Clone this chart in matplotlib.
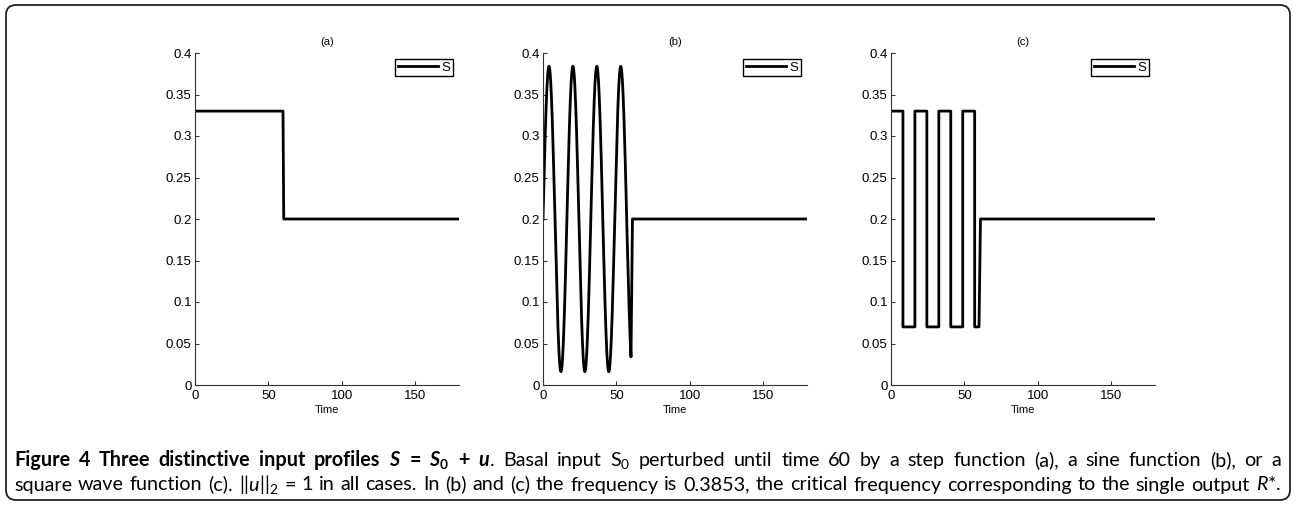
import numpy as np
import matplotlib
matplotlib.use("Agg")
import matplotlib.pyplot as plt
from matplotlib.patches import FancyBboxPatch
from matplotlib.offsetbox import TextArea, HPacker, AnchoredOffsetbox

plt.rcParams['font.family'] = ['Liberation Sans', 'DejaVu Sans']
plt.rcParams['mathtext.fontset'] = 'custom'
plt.rcParams['mathtext.rm'] = 'Lato'
plt.rcParams['mathtext.it'] = 'Lato:italic'
plt.rcParams['mathtext.bf'] = 'Lato:bold'
plt.rcParams['mathtext.bfit'] = 'Lato:bold:italic'

# ---- data ----
panel_titles = ['(a)', '(b)', '(c)']
x_ticks = [0, 50, 100, 150]
y_ticks = [0, 0.05, 0.1, 0.15, 0.2, 0.25, 0.3, 0.35, 0.4]
y_tick_labels = ['0', '0.05', '0.1', '0.15', '0.2', '0.25', '0.3', '0.35', '0.4']

basal = 0.2          # S0
t_end = 180
t_pert = 60          # perturbation stops here

# (a) step
step_t = [0, 60, 60.5, 180]
step_S = [0.33, 0.33, 0.2, 0.2]

# (b) sine, amplitude / frequency
sine_amp = 0.184
sine_freq = 0.3853

# (c) square wave: switching times and the level held from each one
square_t = [0, 8.15, 16.3, 24.45, 32.6, 40.75, 48.9, 57.05, 60]
square_S = [0.33, 0.07, 0.33, 0.07, 0.33, 0.07, 0.33, 0.07, 0.07]

# ---- build series ----
t_sin = np.linspace(0, t_pert, 600)
S_sin = basal + sine_amp * np.sin(sine_freq * t_sin)
sine_t = np.concatenate([t_sin, [61, t_end]])
sine_S = np.concatenate([S_sin, [basal, basal]])

sq_t, sq_S = [], []
for i in range(len(square_t) - 1):
    sq_t += [square_t[i], square_t[i + 1]]
    sq_S += [square_S[i], square_S[i]]
sq_t += [61, t_end]
sq_S += [basal, basal]

series = [(step_t, step_S), (sine_t, sine_S), (sq_t, sq_S)]

# ---- figure ----
W, H = 1296, 505
fig = plt.figure(figsize=(W / 100, H / 100), dpi=100)

border = FancyBboxPatch((6 / 100, 5 / 100), (W - 12) / 100, (H - 10) / 100,
                        boxstyle="round,pad=0,rounding_size=0.1",
                        transform=fig.dpi_scale_trans, fill=False,
                        edgecolor='#222222', linewidth=1.3)
fig.patches.append(border)

lefts = [195, 543, 891]
ax_w, ax_top, ax_bot = 264, 53, 385
for k, left in enumerate(lefts):
    ax = fig.add_axes([left / W, (H - ax_bot) / H, ax_w / W, (ax_bot - ax_top) / H])
    x, y = series[k]
    ax.plot(x, y, color='black', linewidth=2.0, label='S')
    ax.set_xlim(0, 180)
    ax.set_ylim(0, 0.4)
    ax.set_xticks(x_ticks)
    ax.set_yticks(y_ticks)
    ax.set_yticklabels(y_tick_labels)
    ax.spines['top'].set_visible(False)
    ax.spines['right'].set_visible(False)
    for s in ['left', 'bottom']:
        ax.spines[s].set_linewidth(0.8)
        ax.spines[s].set_color('#333333')
    ax.tick_params(direction='in', length=3, width=0.8, color='#333333',
                   labelsize=9.5)
    ax.tick_params(axis='x', pad=3.5)
    ax.tick_params(axis='y', pad=2.5)
    ax.set_title(panel_titles[k], fontsize=8, pad=6)
    ax.set_xlabel('Time', fontsize=8, labelpad=2)
    leg = ax.legend(loc='upper right', fontsize=9.5, handlelength=3.0,
                    handletextpad=0.3, borderpad=0.2, borderaxespad=0.45,
                    fancybox=False, framealpha=1)
    leg.get_frame().set_edgecolor('black')
    leg.get_frame().set_linewidth(1.0)

# ---- caption (justified lines) ----
cap_font = 'Lato'
cap_size = 14.2
bold = dict(family=cap_font, size=cap_size, weight='bold')
reg = dict(family=cap_font, size=cap_size)

line1_bold = r'Figure 4 Three distinctive input profiles $\mathbfit{S}$ = $\mathbfit{S}_\mathbf{0}$ +'
line1_reg = r'Basal input $\mathrm{S}_0$ perturbed until time 60 by a step function (a), a sine function (b), or a'
line2_reg = (r'square wave function (c). $||u||_2$ = 1 in all cases. In (b) and (c) the frequency '
             r'is 0.3853, the critical frequency corresponding to the single output $R$*.')


def word_box(parts):
    if len(parts) == 1:
        return TextArea(parts[0][0], textprops=parts[0][1])
    return HPacker(children=[TextArea(t, textprops=p) for t, p in parts],
                   align='baseline', pad=0, sep=0)


words1 = [word_box([(w, bold)]) for w in line1_bold.split(' ')]
words1.append(word_box([(r'$\mathbfit{u}$', bold), ('.', reg)]))
words1 += [word_box([(w, reg)]) for w in line1_reg.split(' ')]
words2 = [word_box([(w, reg)]) for w in line2_reg.split(' ')]

line_w = 1267
for words, ypix in [(words1, 460), (words2, 484)]:
    ln = HPacker(children=words, align='baseline', pad=0, sep=0,
                 mode='expand', width=line_w)
    ab = AnchoredOffsetbox(loc='center left', child=ln, pad=0, borderpad=0,
                           bbox_to_anchor=(14 / W, 1 - ypix / H),
                           bbox_transform=fig.transFigure, frameon=False)
    fig.add_artist(ab)

fig.savefig('out.png', dpi=100)
